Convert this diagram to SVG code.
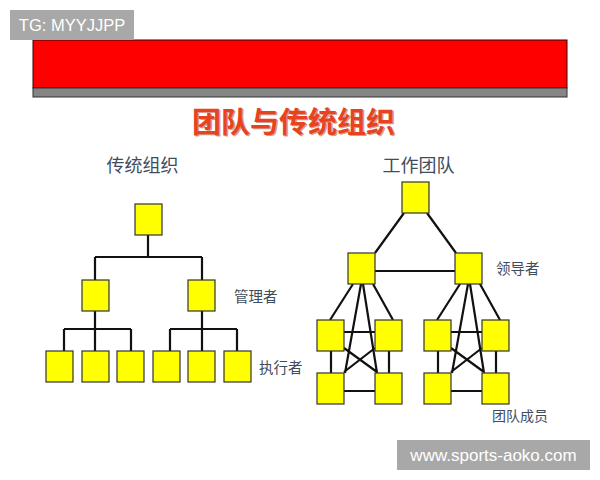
<svg xmlns="http://www.w3.org/2000/svg" width="600" height="480" viewBox="0 0 600 480">
<style>
.box{fill:#ffff00;stroke:#333;stroke-width:1.2}
.ln{stroke:#111;stroke-width:2.2;fill:none;stroke-linecap:butt}
.lbl{font-family:"Noto Sans CJK SC","Noto Sans",sans-serif;fill:#3e4c5e}
.wm{font-family:"Liberation Sans",Arial,sans-serif;fill:#fff}
</style>
<rect width="600" height="480" fill="#fff"/>
<g id="header">
<rect x="33" y="40" width="534" height="48" fill="#ff0000" stroke="#3a0000" stroke-width="1"/>
<rect x="33" y="88" width="534" height="9" fill="#858585" stroke="#333" stroke-width="1"/>
</g>
<g id="title">
<text x="295" y="134" text-anchor="middle" font-family="'Noto Sans CJK SC',sans-serif" font-weight="bold" font-size="29" fill="#a02810" opacity="0.45">团队与传统组织</text>
<text x="293.5" y="132.5" text-anchor="middle" font-family="'Noto Sans CJK SC',sans-serif" font-weight="bold" font-size="29" fill="#e8431f">团队与传统组织</text>
</g>
<g id="labels">
<text class="lbl" x="142.5" y="172" text-anchor="middle" font-size="18">传统组织</text>
<text class="lbl" x="418.5" y="172" text-anchor="middle" font-size="18">工作团队</text>
<text class="lbl" x="234" y="302" font-size="14.5">管理者</text>
<text class="lbl" x="259" y="373" font-size="14.5">执行者</text>
<text class="lbl" x="496" y="274" font-size="14.5">领导者</text>
<text class="lbl" x="492" y="421" font-size="14">团队成员</text>
</g>
<g id="connectors">
<path class="ln" d="M148 235V257M95 257H202M95 257V280M202 257V280"/>
<path class="ln" d="M95 311V329M64 329H131M64 329V351M95 329V351M131 329V351"/>
<path class="ln" d="M202 311V329M170 329H237M170 329V351M202 329V351M237 329V351"/>
<path class="ln" d="M404 213L375 253M427 213L456 253M375 271H455"/>
<path class="ln" d="M353 284L330 320M373 284L393 320M361 284L345 373M363 284L377 373M344 348L377 372M375 348L344 372M344 332H375M344 391H375M331 351V373M389 351V373"/>
<path class="ln" transform="translate(107 0)" d="M353 284L330 320M373 284L393 320M361 284L345 373M363 284L377 373M344 348L377 372M375 348L344 372M344 332H375M344 391H375M331 351V373M389 351V373"/>
</g>
<g id="trad-top"><rect class="box" x="135" y="204" width="27" height="31"/></g>
<g id="trad-mgr1"><rect class="box" x="82" y="280" width="27" height="31"/></g>
<g id="trad-mgr2"><rect class="box" x="188" y="280" width="27" height="31"/></g>
<g id="trad-w1"><rect class="box" x="46" y="351" width="27" height="31"/></g>
<g id="trad-w2"><rect class="box" x="82" y="351" width="27" height="31"/></g>
<g id="trad-w3"><rect class="box" x="117" y="351" width="27" height="31"/></g>
<g id="trad-w4"><rect class="box" x="153" y="351" width="27" height="31"/></g>
<g id="trad-w5"><rect class="box" x="188" y="351" width="27" height="31"/></g>
<g id="trad-w6"><rect class="box" x="224" y="351" width="27" height="31"/></g>
<g id="team-top"><rect class="box" x="402" y="182" width="27" height="31"/></g>
<g id="team-lead1"><rect class="box" x="348" y="253" width="27" height="31"/></g>
<g id="team-lead2"><rect class="box" x="455" y="253" width="27" height="31"/></g>
<g id="team-m1"><rect class="box" x="317" y="320" width="27" height="31"/></g>
<g id="team-m2"><rect class="box" x="375" y="320" width="27" height="31"/></g>
<g id="team-m3"><rect class="box" x="317" y="373" width="27" height="31"/></g>
<g id="team-m4"><rect class="box" x="375" y="373" width="27" height="31"/></g>
<g id="team-m5"><rect class="box" x="424" y="320" width="27" height="31"/></g>
<g id="team-m6"><rect class="box" x="482" y="320" width="27" height="31"/></g>
<g id="team-m7"><rect class="box" x="424" y="373" width="27" height="31"/></g>
<g id="team-m8"><rect class="box" x="482" y="373" width="27" height="31"/></g>
<g id="watermark-tg">
<rect x="10" y="10" width="124" height="30" fill="#a8a8a8"/>
<text class="wm" x="72" y="31" text-anchor="middle" font-size="16.5">TG: MYYJJPP</text>
</g>
<g id="watermark-url">
<rect x="397" y="440" width="193" height="30" fill="#a8a8a8"/>
<text class="wm" x="493.5" y="461" text-anchor="middle" font-size="17">www.sports-aoko.com</text>
</g>
</svg>
